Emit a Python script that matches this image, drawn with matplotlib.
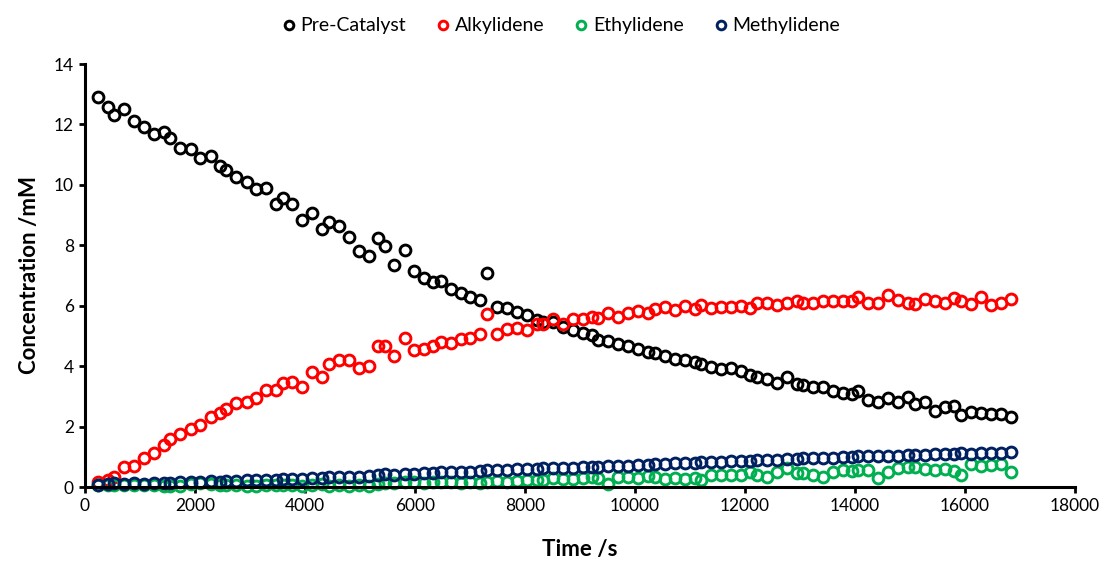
import matplotlib
matplotlib.use("Agg")
import matplotlib.pyplot as plt

# Sampling times (s)
time_s = [242, 424, 533, 715, 897, 1079, 1255, 1442, 1545, 1727,
          1921, 2091, 2285, 2455, 2564, 2745, 2940, 3109, 3291, 3473,
          3594, 3764, 3945, 4127, 4309, 4430, 4612, 4794, 4976, 5158,
          5333, 5455, 5624, 5812, 5988, 6164, 6333, 6467, 6648, 6830,
          7000, 7182, 7303, 7485, 7667, 7848, 8030, 8212, 8333, 8515,
          8685, 8867, 9048, 9212, 9333, 9515, 9697, 9879, 10061, 10242,
          10364, 10545, 10727, 10909, 11091, 11194, 11376, 11558, 11739, 11921,
          12091, 12212, 12394, 12576, 12758, 12939, 13061, 13242, 13424, 13594,
          13776, 13939, 14061, 14242, 14424, 14606, 14788, 14970, 15091, 15273,
          15455, 15636, 15800, 15921, 16103, 16285, 16467, 16648, 16830]

# Concentrations (mM)
pre_catalyst = [12.9, 12.57, 12.32, 12.5, 12.1, 11.93, 11.68, 11.74, 11.55, 11.21,
                11.18, 10.88, 10.94, 10.64, 10.5, 10.27, 10.08, 9.87, 9.91, 9.36,
                9.56, 9.37, 8.84, 9.06, 8.55, 8.77, 8.65, 8.29, 7.81, 7.64,
                8.25, 7.98, 7.35, 7.83, 7.16, 6.93, 6.77, 6.83, 6.56, 6.41,
                6.28, 6.19, 7.08, 5.97, 5.92, 5.8, 5.7, 5.53, 5.45, 5.45,
                5.3, 5.2, 5.1, 5.02, 4.86, 4.84, 4.74, 4.67, 4.56, 4.48,
                4.42, 4.34, 4.23, 4.21, 4.15, 4.07, 3.96, 3.9, 3.93, 3.85,
                3.71, 3.63, 3.57, 3.45, 3.63, 3.4, 3.38, 3.31, 3.3, 3.19,
                3.12, 3.08, 3.19, 2.88, 2.82, 2.94, 2.82, 2.97, 2.75, 2.82,
                2.53, 2.66, 2.68, 2.38, 2.49, 2.46, 2.42, 2.42, 2.33]

alkylidene = [0.18, 0.23, 0.32, 0.67, 0.7, 0.95, 1.14, 1.39, 1.58, 1.75,
              1.91, 2.05, 2.31, 2.44, 2.57, 2.77, 2.82, 2.94, 3.21, 3.21,
              3.45, 3.49, 3.32, 3.82, 3.63, 4.08, 4.2, 4.2, 3.93, 4.0,
              4.68, 4.68, 4.34, 4.92, 4.54, 4.56, 4.67, 4.81, 4.76, 4.89,
              4.92, 5.06, 5.72, 5.06, 5.22, 5.25, 5.2, 5.4, 5.4, 5.55,
              5.4, 5.57, 5.57, 5.62, 5.6, 5.75, 5.61, 5.77, 5.84, 5.75,
              5.88, 5.95, 5.86, 5.99, 5.88, 6.03, 5.92, 5.95, 5.97, 5.99,
              5.92, 6.08, 6.1, 6.03, 6.1, 6.14, 6.08, 6.1, 6.15, 6.14,
              6.14, 6.14, 6.28, 6.1, 6.08, 6.36, 6.19, 6.1, 6.06, 6.21,
              6.14, 6.08, 6.25, 6.14, 6.06, 6.28, 6.03, 6.1, 6.21]

ethylidene = [0.05, 0.06, 0.08, 0.05, 0.07, 0.05, 0.06, 0.02, 0.04, 0.02,
              0.1, 0.12, 0.1, 0.05, 0.08, 0.06, 0.03, 0.02, 0.07, 0.05,
              0.08, 0.05, 0.04, 0.06, 0.1, 0.03, 0.05, 0.02, 0.06, 0.02,
              0.1, 0.13, 0.12, 0.15, 0.16, 0.12, 0.15, 0.18, 0.16, 0.13,
              0.16, 0.13, 0.18, 0.2, 0.17, 0.2, 0.22, 0.24, 0.22, 0.29,
              0.26, 0.27, 0.3, 0.32, 0.3, 0.1, 0.33, 0.32, 0.3, 0.35,
              0.33, 0.28, 0.3, 0.28, 0.3, 0.22, 0.4, 0.41, 0.4, 0.4,
              0.51, 0.4, 0.34, 0.49, 0.62, 0.45, 0.45, 0.41, 0.34, 0.49,
              0.56, 0.53, 0.56, 0.56, 0.31, 0.51, 0.64, 0.67, 0.67, 0.6,
              0.56, 0.6, 0.53, 0.4, 0.75, 0.71, 0.73, 0.75, 0.51]

methylidene = [0.07, 0.09, 0.12, 0.09, 0.12, 0.09, 0.12, 0.13, 0.14, 0.16,
               0.17, 0.18, 0.19, 0.18, 0.2, 0.21, 0.22, 0.22, 0.23, 0.24,
               0.25, 0.27, 0.28, 0.29, 0.31, 0.33, 0.33, 0.34, 0.34, 0.35,
               0.39, 0.42, 0.41, 0.43, 0.44, 0.45, 0.47, 0.48, 0.49, 0.5,
               0.51, 0.53, 0.55, 0.56, 0.57, 0.58, 0.6, 0.61, 0.62, 0.62,
               0.63, 0.64, 0.65, 0.66, 0.67, 0.69, 0.7, 0.71, 0.72, 0.74,
               0.76, 0.77, 0.78, 0.79, 0.81, 0.83, 0.84, 0.84, 0.85, 0.86,
               0.87, 0.89, 0.9, 0.91, 0.93, 0.94, 0.95, 0.95, 0.96, 0.97,
               0.98, 1.0, 1.01, 1.01, 1.02, 1.03, 1.04, 1.05, 1.07, 1.07,
               1.08, 1.09, 1.1, 1.11, 1.1, 1.12, 1.13, 1.13, 1.15]

series_names = ["Pre-Catalyst", "Alkylidene", "Ethylidene", "Methylidene"]
series_colors = ["#000000", "#FF0000", "#00B050", "#002060"]
series_values = [pre_catalyst, alkylidene, ethylidene, methylidene]

x_ticks = [0, 2000, 4000, 6000, 8000, 10000, 12000, 14000, 16000, 18000]
y_ticks = [0, 2, 4, 6, 8, 10, 12, 14]

plt.rcParams["font.family"] = ["Lato", "DejaVu Sans"]

fig = plt.figure(figsize=(11.08, 5.65), dpi=100)
ax = fig.add_axes([85 / 1108, 78 / 565, 990 / 1108, 423 / 565])

for name, color, vals in zip(series_names, series_colors, series_values):
    ax.plot(time_s, vals, linestyle="none", marker="o", markersize=7.8,
            markerfacecolor="none", markeredgecolor=color, markeredgewidth=2.1,
            label=name, clip_on=False)

ax.set_xlim(0, 18000)
ax.set_ylim(0, 14)
ax.set_xticks(x_ticks)
ax.set_yticks(y_ticks)
ax.tick_params(axis="both", direction="out", length=4, width=2, labelsize=12.5,
               pad=4, colors="black")

for side in ("top", "right"):
    ax.spines[side].set_visible(False)
for side in ("left", "bottom"):
    ax.spines[side].set_linewidth(2.2)
    ax.spines[side].set_color("black")

ax.set_xlabel("Time /s", fontsize=16, fontweight="bold", labelpad=18)
ax.set_ylabel("Concentration /mM", fontsize=16, fontweight="bold", labelpad=10)

fig.legend(loc="center", bbox_to_anchor=(0.505, 1 - 26 / 565), ncol=4,
           frameon=False, fontsize=14, handletextpad=0.1,
           columnspacing=1.4, markerscale=0.8, handlelength=1.0)

fig.savefig("out.png", dpi=100, facecolor="white")
